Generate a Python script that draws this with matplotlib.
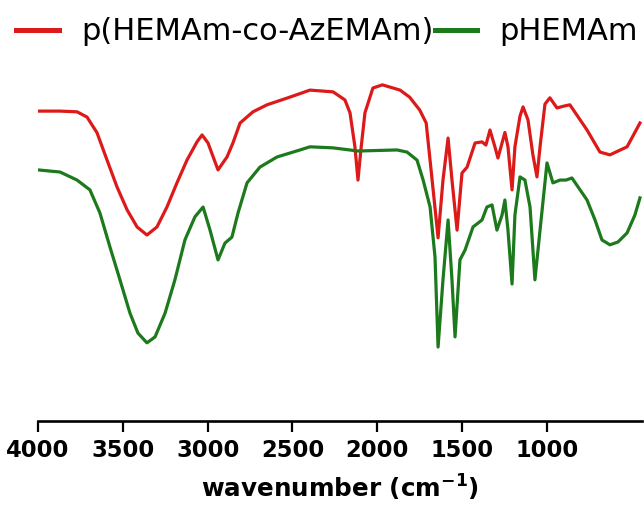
import matplotlib
matplotlib.use("Agg")
import matplotlib.pyplot as plt
from matplotlib.lines import Line2D

# FTIR spectra (wavenumber in cm-1, transmittance in arbitrary %)
wn_copolymer = [4000, 3870, 3770, 3711, 3652, 3593, 3534, 3475, 3416, 3358, 3299, 3240,
                3181, 3122, 3063, 3033, 2998, 2939, 2886, 2851, 2809, 2733, 2650, 2515,
                2397, 2261, 2191, 2161, 2132, 2114, 2097, 2073, 2026, 1970, 1866, 1810,
                1750, 1712, 1677, 1642, 1613, 1583, 1560, 1530, 1501, 1471, 1424, 1383,
                1360, 1336, 1307, 1289, 1248, 1230, 1206, 1189, 1159, 1141, 1112, 1083,
                1059, 1041, 1012, 983, 941, 894, 865, 764, 688, 629, 528, 452]
t_copolymer = [91.1, 91.1, 90.9, 89.4, 84.9, 77.1, 69.4, 62.9, 58.0, 55.7, 58.0, 63.7,
               70.6, 77.1, 82.3, 84.3, 82.0, 74.3, 78.0, 82.0, 87.7, 90.9, 92.9, 95.1,
               97.1, 96.6, 94.3, 90.6, 80.9, 71.4, 80.0, 90.6, 97.7, 98.6, 97.1, 95.1,
               91.4, 87.7, 71.4, 54.9, 71.4, 83.4, 71.4, 57.1, 73.4, 75.1, 82.0, 82.3,
               81.4, 85.7, 80.9, 77.7, 85.0, 80.9, 68.6, 80.9, 89.7, 92.3, 88.6, 78.6,
               72.3, 80.9, 93.1, 94.9, 92.0, 92.6, 92.9, 85.7, 79.4, 78.6, 80.9, 87.7]

wn_homopolymer = [4000, 3870, 3770, 3694, 3635, 3576, 3517, 3458, 3411, 3358, 3310, 3251,
                  3193, 3134, 3075, 3027, 2986, 2939, 2898, 2857, 2821, 2768, 2692, 2591,
                  2456, 2397, 2261, 2114, 1884, 1825, 1766, 1730, 1689, 1660, 1642, 1613,
                  1583, 1560, 1542, 1513, 1483, 1436, 1383, 1354, 1324, 1295, 1265, 1248,
                  1230, 1206, 1189, 1159, 1130, 1100, 1071, 1041, 1000, 965, 923, 888, 853,
                  764, 717, 676, 629, 582, 528, 482, 452]
t_homopolymer = [74.3, 73.7, 71.4, 68.6, 62.0, 52.3, 42.9, 33.4, 27.7, 24.9, 26.6, 33.4,
                 42.9, 54.3, 60.9, 63.7, 57.1, 48.6, 53.4, 55.1, 62.0, 70.6, 75.1, 78.0,
                 80.0, 80.9, 80.6, 79.7, 80.0, 79.4, 77.1, 71.4, 63.7, 49.4, 23.7, 42.9,
                 60.0, 42.9, 26.6, 48.6, 51.4, 58.0, 60.0, 63.7, 64.3, 57.1, 61.4, 65.7,
                 57.1, 41.7, 61.4, 72.3, 71.4, 63.7, 42.9, 57.1, 76.3, 70.6, 71.4, 71.4,
                 72.0, 65.7, 60.0, 54.3, 52.9, 53.7, 56.3, 61.4, 66.3]

labels = ["p(HEMAm-co-AzEMAm)", "pHEMAm"]
colors = ["#dc1a1a", "#1c7a1c"]
xticks = [4000, 3500, 3000, 2500, 2000, 1500, 1000]

W, H = 644, 513
fig = plt.figure(figsize=(W / 100, H / 100), dpi=100)
ax = fig.add_axes([38 / W, 92 / H, (642 - 38) / W, (421 - 60) / H])

ax.plot(wn_copolymer, t_copolymer, color=colors[0], lw=2.3,
        solid_joinstyle="round", label=labels[0])
ax.plot(wn_homopolymer, t_homopolymer, color=colors[1], lw=2.3,
        solid_joinstyle="round", label=labels[1])

ax.set_xlim(4000, 440)
ax.set_ylim(2.57, 105.7)
for s in ["top", "right", "left"]:
    ax.spines[s].set_visible(False)
ax.spines["bottom"].set_linewidth(1.9)
ax.spines["bottom"].set_bounds(4000, 440)
ax.set_yticks([])
ax.set_xticks(xticks)
ax.set_xticklabels([str(t) for t in xticks], fontsize=16.3, fontweight="bold",
                   family="DejaVu Sans")
ax.tick_params(axis="x", direction="out", length=8, width=1.6, pad=5)
ax.set_xlabel("wavenumber (cm$^{\\mathbf{-1}}$)", fontsize=17.7, fontweight="bold",
              family="DejaVu Sans", labelpad=8)

h1 = Line2D([], [], color=colors[0], lw=3.6)
h2 = Line2D([], [], color=colors[1], lw=3.6)
fig.legend([h1, h2], labels, ncol=2, loc="center left",
           bbox_to_anchor=(16 / W, 1 - 32 / H), frameon=False,
           prop={"family": "DejaVu Sans", "size": 22},
           handlelength=1.4, handletextpad=0.72, columnspacing=0.05,
           borderpad=0, borderaxespad=0)

fig.savefig("out.png", dpi=100)
